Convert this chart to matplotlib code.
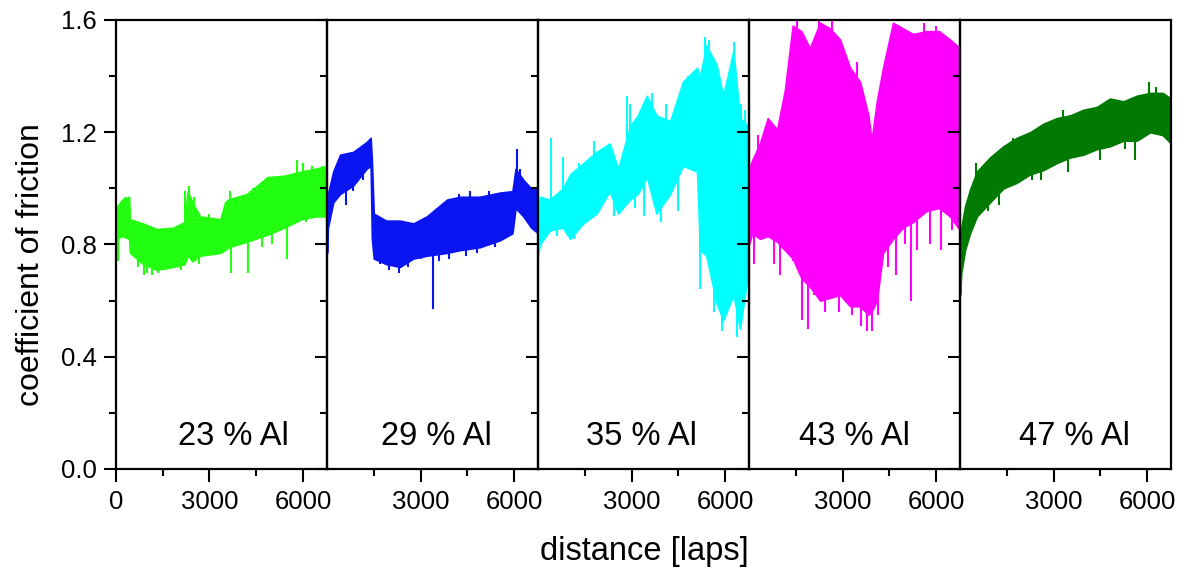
import numpy as np
import matplotlib
matplotlib.use("Agg")
import matplotlib.pyplot as plt
from matplotlib.ticker import MultipleLocator, FixedLocator

plt.rcParams['font.family'] = ['Liberation Sans', 'DejaVu Sans']

# panel titles and trace colours
labels = ['23 % Al', '29 % Al', '35 % Al', '43 % Al', '47 % Al']
colors = ['#22ff11', '#0a14f0', '#00ffff', '#ff00ff', '#007a00']

# friction band: laps, lower edge, upper edge
# plus single spikes sticking out of the band (laps, value)
al23_laps = [0, 200, 420, 450, 870, 1300, 1840, 2200, 2300, 2450, 2700, 3350, 3500, 3600, 4200, 4860, 5400, 5950, 6400, 6770]
al23_lo = [0.82, 0.83, 0.82, 0.77, 0.73, 0.71, 0.72, 0.73, 0.76, 0.74, 0.76, 0.77, 0.78, 0.79, 0.81, 0.835, 0.86, 0.89, 0.90, 0.90]
al23_hi = [0.93, 0.96, 0.97, 0.89, 0.875, 0.855, 0.86, 0.88, 0.99, 0.95, 0.90, 0.89, 0.95, 0.96, 0.98, 1.04, 1.045, 1.06, 1.07, 1.08]
al23_spk_laps = [60, 300, 700, 900, 1000, 1150, 1350, 1600, 2100, 2200, 2350, 2500, 2650, 3000, 3650,
                 3700, 3900, 4250, 4400, 4600, 4700, 5000, 5200, 5500, 5800, 6000, 6100, 6300, 6600]
al23_spk_vals = [0.74, 0.97, 0.72, 0.69, 0.70, 0.69, 0.70, 0.71, 0.71, 0.99, 1.01, 0.97, 0.73, 0.91, 0.99,
                 0.70, 0.97, 0.70, 1.00, 0.98, 0.79, 0.80, 1.04, 0.75, 1.10, 1.09, 0.88, 1.08, 1.08]

al29_laps = [0, 30, 200, 420, 840, 1270, 1400, 1440, 1500, 1900, 2340, 2770, 3200, 3850, 4270, 4900, 5550, 5950, 6050, 6300, 6550, 6770]
al29_lo = [0.77, 0.86, 0.95, 0.98, 1.01, 1.07, 1.08, 0.82, 0.75, 0.73, 0.72, 0.75, 0.76, 0.77, 0.78, 0.79, 0.815, 0.84, 0.93, 0.90, 0.86, 0.84]
al29_hi = [0.90, 0.98, 1.06, 1.12, 1.13, 1.165, 1.18, 1.10, 0.91, 0.885, 0.885, 0.875, 0.90, 0.96, 0.97, 0.97, 0.985, 0.99, 1.07, 1.03, 1.00, 0.995]
al29_spk_laps = [400, 600, 850, 1150, 1700, 2000, 2300, 2600, 3000, 3400, 3600, 3900, 4250, 4450,
                 4600, 4800, 5200, 5400, 5900, 6080, 6200]
al29_spk_vals = [1.10, 0.94, 0.99, 1.03, 0.73, 0.71, 0.70, 0.72, 0.75, 0.57, 0.74, 0.75, 0.98, 0.76,
                 0.99, 0.77, 0.99, 0.79, 0.98, 1.14, 1.07]

al35_laps = [0, 60, 380, 800, 1030, 1450, 1880, 2300, 2570, 2950, 3200, 3490, 3800, 4240, 4650, 5100, 5200, 5400, 5730, 5940, 6270, 6480, 6770]
al35_lo = [0.76, 0.80, 0.85, 0.86, 0.82, 0.875, 0.91, 0.99, 0.91, 0.96, 0.98, 1.04, 0.91, 0.98, 1.08, 1.06, 0.78, 0.76, 0.59, 0.53, 0.62, 0.50, 0.72]
al35_hi = [0.90, 0.97, 0.96, 1.00, 1.05, 1.09, 1.13, 1.16, 1.07, 1.22, 1.26, 1.33, 1.26, 1.24, 1.38, 1.43, 1.40, 1.51, 1.44, 1.33, 1.49, 1.25, 1.22]
al35_spk_laps = [430, 600, 800, 1150, 1300, 1800, 2100, 2450, 2850, 2950, 3100, 3400, 3650, 3950, 4100,
                 4500, 4800, 5200, 5350, 5500, 5650, 5900, 6100, 6300, 6400, 6500, 6650]
al35_spk_vals = [1.18, 0.83, 1.11, 0.82, 1.09, 1.17, 1.13, 0.90, 1.33, 1.30, 0.93, 0.90, 1.34, 0.88, 1.30,
                 0.92, 1.40, 0.64, 1.54, 1.53, 0.56, 0.49, 1.35, 1.52, 0.47, 1.30, 1.28]

al43_laps = [0, 100, 350, 600, 900, 1150, 1400, 1680, 1950, 2280, 2600, 2920, 3240, 3560, 3830, 3930, 4100, 4300, 4620, 4940, 5260, 5700, 6100, 6450, 6770]
al43_lo = [0.80, 0.84, 0.82, 0.83, 0.81, 0.78, 0.75, 0.68, 0.65, 0.60, 0.61, 0.62, 0.58, 0.58, 0.55, 0.56, 0.60, 0.77, 0.82, 0.86, 0.88, 0.92, 0.93, 0.90, 0.85]
al43_hi = [1.07, 1.10, 1.16, 1.25, 1.21, 1.35, 1.58, 1.56, 1.50, 1.59, 1.57, 1.53, 1.43, 1.38, 1.26, 1.17, 1.31, 1.43, 1.59, 1.57, 1.55, 1.56, 1.56, 1.53, 1.50]
al43_spk_laps = [150, 300, 450, 800, 1000, 1250, 1400, 1550, 1700, 1900, 2100, 2250, 2450, 2650, 2900, 3100,
                 3300, 3450, 3600, 3800, 3950, 4150, 4450, 4700, 5000, 5200, 5400, 5600, 5800, 6000, 6150, 6500]
al43_spk_vals = [0.73, 1.19, 1.14, 0.73, 0.69, 1.40, 0.74, 1.60, 0.53, 0.50, 0.62, 1.60, 0.56, 1.60, 0.56, 0.60,
                 0.55, 1.45, 0.51, 0.49, 0.49, 0.55, 0.72, 0.69, 0.80, 0.60, 0.78, 1.59, 0.80, 1.58, 0.78, 0.85]

al47_laps = [0, 40, 160, 320, 540, 960, 1390, 1820, 2250, 2670, 3100, 3530, 3960, 4390, 4810, 5240, 5670, 6100, 6500, 6770]
al47_lo = [0.62, 0.70, 0.78, 0.84, 0.90, 0.95, 1.00, 1.02, 1.05, 1.065, 1.09, 1.11, 1.12, 1.14, 1.15, 1.17, 1.17, 1.20, 1.19, 1.16]
al47_hi = [0.75, 0.86, 0.935, 0.995, 1.06, 1.11, 1.15, 1.18, 1.20, 1.23, 1.25, 1.26, 1.28, 1.29, 1.32, 1.31, 1.33, 1.34, 1.34, 1.32]
al47_spk_laps = [520, 900, 1250, 1700, 2300, 2600, 2900, 3300, 3450, 3800, 4100, 4500, 4900, 5300, 5600, 6050, 6300]
al47_spk_vals = [1.09, 0.92, 0.94, 1.18, 1.03, 1.03, 1.23, 1.28, 1.06, 1.27, 1.27, 1.10, 1.30, 1.14, 1.10, 1.38, 1.36]

bands = [
    (al23_laps, al23_lo, al23_hi, al23_spk_laps, al23_spk_vals),
    (al29_laps, al29_lo, al29_hi, al29_spk_laps, al29_spk_vals),
    (al35_laps, al35_lo, al35_hi, al35_spk_laps, al35_spk_vals),
    (al43_laps, al43_lo, al43_hi, al43_spk_laps, al43_spk_vals),
    (al47_laps, al47_lo, al47_hi, al47_spk_laps, al47_spk_vals),
]
label_xpos = [0.555, 0.52, 0.49, 0.50, 0.54]

fig, axes = plt.subplots(1, 5, sharey=True, figsize=(11.86, 5.76), dpi=100)
fig.subplots_adjust(left=0.0978, right=0.9874, bottom=0.1858, top=0.9653, wspace=0)

for i, ax in enumerate(axes):
    laps, lo, hi, sx, sy = bands[i]
    laps = np.array(laps, float)
    lo = np.array(lo)
    hi = np.array(hi)
    ax.fill_between(laps, lo, hi, color=colors[i], lw=1.2, edgecolor=colors[i])
    mid = (lo + hi) / 2
    ax.vlines(sx, sy, np.interp(sx, laps, mid), color=colors[i], lw=1.5)

    ax.set_xlim(0, 6770)
    ax.set_ylim(0, 1.6)
    ax.patch.set_alpha(0)
    for sp in ax.spines.values():
        sp.set_linewidth(1.6)

    ax.text(label_xpos[i], 0.072, labels[i], transform=ax.transAxes,
            ha='center', va='center', fontsize=23.5)

    if i == 0:
        ax.xaxis.set_major_locator(FixedLocator([0, 3000, 6000]))
    else:
        ax.xaxis.set_major_locator(FixedLocator([3000, 6000]))
    ax.xaxis.set_minor_locator(FixedLocator([1500, 4500]))
    ax.yaxis.set_major_locator(MultipleLocator(0.4))
    ax.yaxis.set_major_formatter(plt.FormatStrFormatter('%.1f'))
    if i > 0:
        ax.yaxis.set_minor_locator(MultipleLocator(0.2))
    ax.tick_params(axis='both', which='major', direction='out', length=9, width=1.5,
                   labelsize=18.5, top=False, right=False)
    ax.tick_params(axis='both', which='minor', direction='out', length=5, width=1.5,
                   top=False, right=False)
    ax.tick_params(axis='x', which='major', pad=6)
    ax.tick_params(axis='y', which='major', pad=5)
    if i > 0:
        ax.tick_params(axis='y', which='both', labelleft=False)

fig.text(0.543, 0.042, 'distance [laps]', ha='center', va='center', fontsize=23.5)
fig.text(0.026, 0.54, 'coefficient of friction', ha='center', va='center',
         rotation=90, fontsize=23)

fig.savefig('out.png', dpi=100)
